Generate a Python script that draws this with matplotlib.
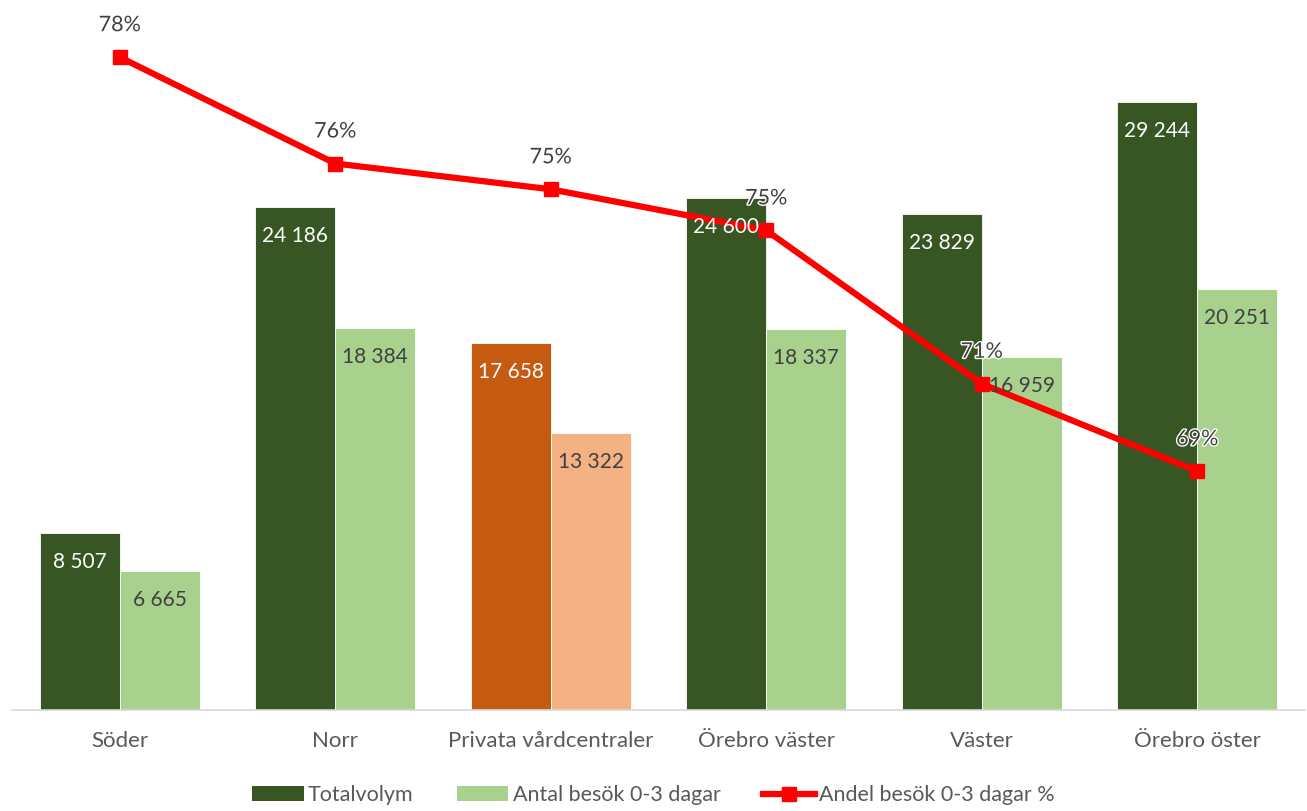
import numpy as np
import matplotlib.pyplot as plt
import matplotlib.patheffects as pe
from matplotlib.patches import Patch
from matplotlib.lines import Line2D

plt.rcParams['font.family'] = ['Lato', 'DejaVu Sans']

# Data
categories = ['Söder', 'Norr', 'Privata vårdcentraler', 'Örebro väster', 'Väster', 'Örebro öster']
totalvolym = [8507, 24186, 17658, 24600, 23829, 29244]
besok_0_3 = [6665, 18384, 13322, 18337, 16959, 20251]
andel_labels = ['78%', '76%', '75%', '75%', '71%', '69%']
andel = [b / t for b, t in zip(besok_0_3, totalvolym)]

dark_colors = ['#375623', '#375623', '#C55A11', '#375623', '#375623', '#375623']
light_colors = ['#A9D18E', '#A9D18E', '#F4B183', '#A9D18E', '#A9D18E', '#A9D18E']
text_gray = '#404040'


def fmt(v):
    return f'{v:,}'.replace(',', ' ')


fig = plt.figure(figsize=(13.07, 8.11), dpi=100)
ax = fig.add_axes([12 / 1307, 101 / 811, 1293 / 1307, 728 / 811])

x = np.arange(len(categories))
w = 0.371
bars1 = ax.bar(x - w / 2, totalvolym, w, color=dark_colors, edgecolor='white', linewidth=0.6)
bars2 = ax.bar(x + w / 2, besok_0_3, w, color=light_colors, edgecolor='white', linewidth=0.6)

ax.set_xlim(-0.5, len(categories) - 0.5)
ax.set_ylim(0, 35000)
ax.set_yticks([])
ax.set_xticks(x)
ax.set_xticklabels(categories, fontsize=16, color='#595959')
ax.tick_params(axis='x', length=0, pad=15)
for s in ['top', 'left', 'right']:
    ax.spines[s].set_visible(False)
ax.spines['bottom'].set_color('#D9D9D9')
ax.spines['bottom'].set_linewidth(1.2)

ax2 = ax.twinx()
ax2.set_ylim(0.64, 0.80)
ax2.axis('off')
ax2.plot(x, andel, color='#FF0000', linewidth=4.5, marker='s', markersize=10,
         solid_capstyle='butt', zorder=3)

# bar labels drawn on ax2 so they sit above the line, like the original
for b, v in zip(bars1, totalvolym):
    ax2.annotate(fmt(v), (b.get_x() + b.get_width() / 2, v), xycoords=ax.transData,
                 xytext=(0, -29), textcoords='offset pixels', ha='center', va='center',
                 fontsize=15, color='white', zorder=5)
for b, v in zip(bars2, besok_0_3):
    ax2.annotate(fmt(v), (b.get_x() + b.get_width() / 2, v), xycoords=ax.transData,
                 xytext=(0, -29), textcoords='offset pixels', ha='center', va='center',
                 fontsize=15, color=text_gray, zorder=5)

for xi, v, lab in zip(x, andel, andel_labels):
    ax2.annotate(lab, (xi, v), xytext=(0, 32), textcoords='offset pixels',
                 ha='center', va='center', fontsize=15.5, color=text_gray, zorder=6,
                 path_effects=[pe.withStroke(linewidth=2, foreground='white')])

handles = [
    Patch(facecolor='#375623', label='Totalvolym'),
    Patch(facecolor='#A9D18E', label='Antal besök 0-3 dagar'),
    Line2D([0], [0], color='#FF0000', linewidth=4.5, marker='s', markersize=10,
           label='Andel besök 0-3 dagar %'),
]
leg = fig.legend(handles=handles, loc='center', bbox_to_anchor=(0.5, 16 / 811),
                 ncol=3, frameon=False, fontsize=15.5, handlelength=2.4,
                 handleheight=0.65, handletextpad=0.2, columnspacing=2.0)
for t in leg.get_texts():
    t.set_color('#595959')

fig.savefig('out.png', dpi=100)
